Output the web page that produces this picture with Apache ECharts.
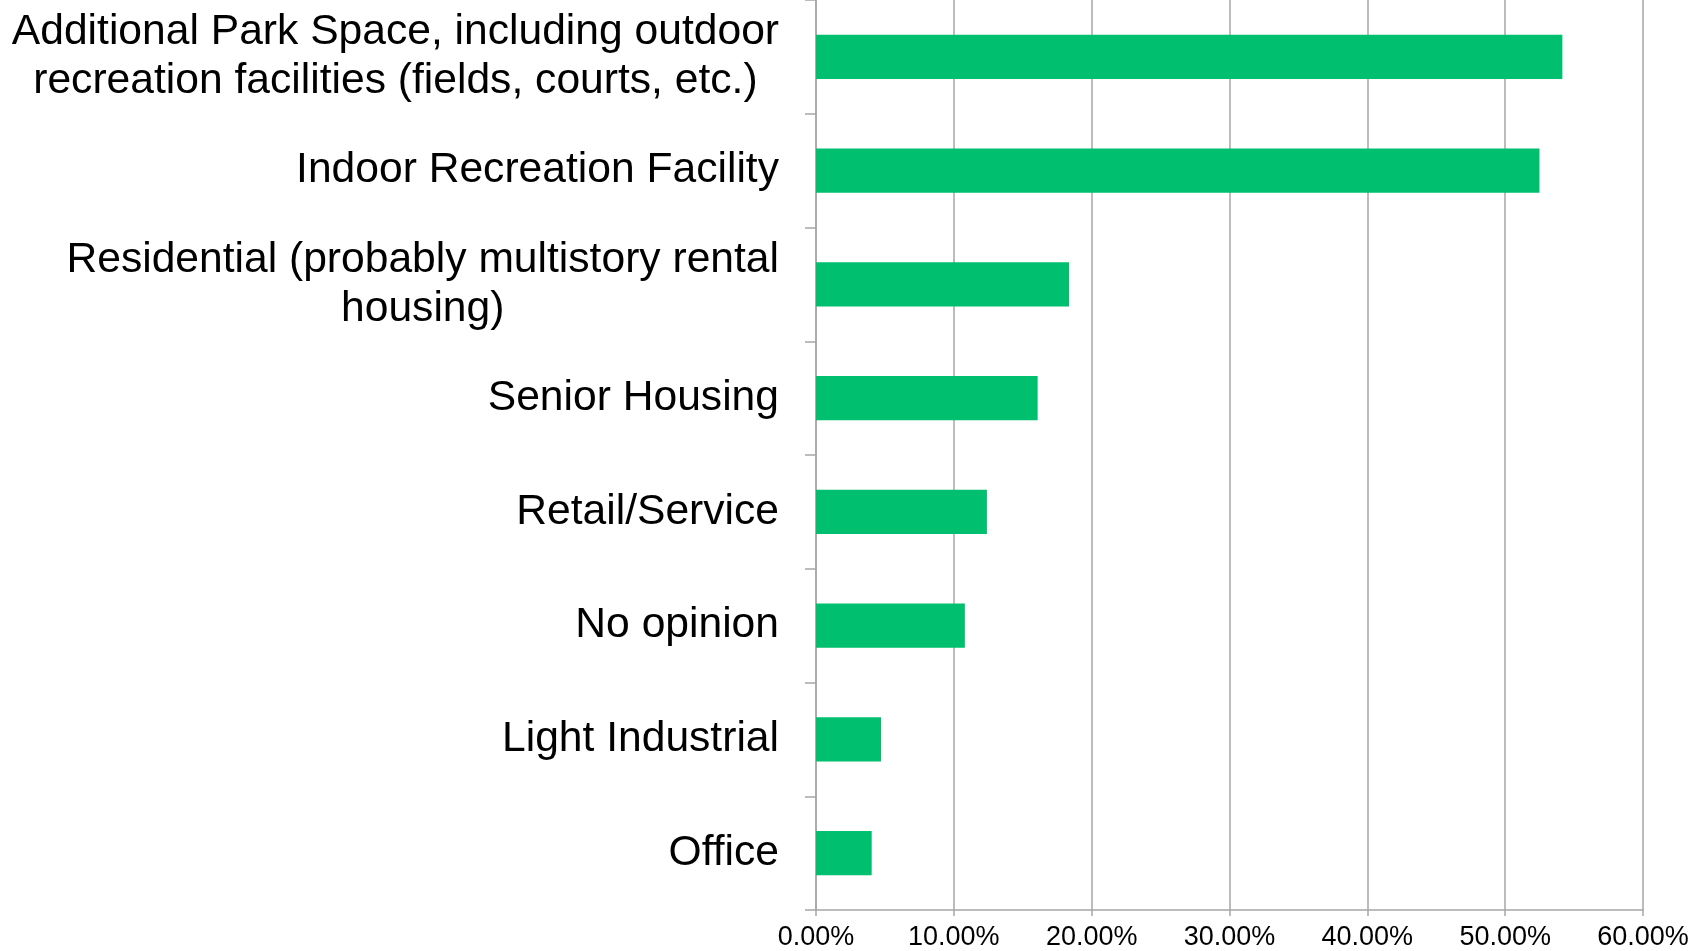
<!DOCTYPE html>
<html>
<head>
<meta charset="utf-8">
<script src="https://cdn.jsdelivr.net/npm/echarts@6/dist/echarts.min.js"></script>
<style>
html,body{margin:0;padding:0;background:#fff;}
#chart{width:1707px;height:951px;}
</style>
</head>
<body>
<div id="chart"></div>
<script>
const categories = [
  "Additional Park Space, including outdoor\nrecreation facilities (fields, courts, etc.)",
  "Indoor Recreation Facility",
  "Residential (probably multistory rental\nhousing)",
  "Senior Housing",
  "Retail/Service",
  "No opinion",
  "Light Industrial",
  "Office"
];
const values = [54.15, 52.49, 18.36, 16.08, 12.40, 10.80, 4.72, 4.04];
const xTicks = [0, 10, 20, 30, 40, 50, 60];

const chart = echarts.init(document.getElementById('chart'));
const gridColor = '#a6a6a6';
chart.setOption({
  animation: false,
  backgroundColor: '#ffffff',
  grid: { left: 816, width: 827, top: -3, height: 913, containLabel: false },
  xAxis: {
    type: 'value',
    min: xTicks[0],
    max: xTicks[xTicks.length - 1],
    interval: 10,
    axisLine: { show: true, lineStyle: { color: gridColor, width: 1.5 } },
    axisTick: { show: true, length: 6, lineStyle: { color: gridColor, width: 1.5 } },
    splitLine: { show: true, lineStyle: { color: gridColor, width: 1.5 } },
    axisLabel: {
      margin: 14,
      color: '#000',
      fontFamily: 'Liberation Sans, Arial, sans-serif',
      fontSize: 27,
      formatter: v => v.toFixed(2) + '%'
    }
  },
  yAxis: {
    type: 'category',
    inverse: true,
    data: categories,
    axisLine: { show: true, lineStyle: { color: gridColor, width: 1.5 } },
    axisTick: { show: true, length: 11, lineStyle: { color: gridColor, width: 1.5 } },
    axisLabel: {
      margin: 37,
      color: '#000',
      fontFamily: 'Liberation Sans, Arial, sans-serif',
      fontSize: 42.6,
      lineHeight: 49,
      formatter: v => v.split('\n').map(s => '{c|' + s + '}').join('\n'),
      rich: {
        c: {
          align: 'center',
          color: '#000',
          fontFamily: 'Liberation Sans, Arial, sans-serif',
          fontSize: 42.6,
          lineHeight: 49
        }
      }
    }
  },
  series: [{
    type: 'bar',
    data: values,
    barWidth: '39%',
    itemStyle: { color: '#00bf6f' },
    silent: true
  }]
});
</script>
</body>
</html>
